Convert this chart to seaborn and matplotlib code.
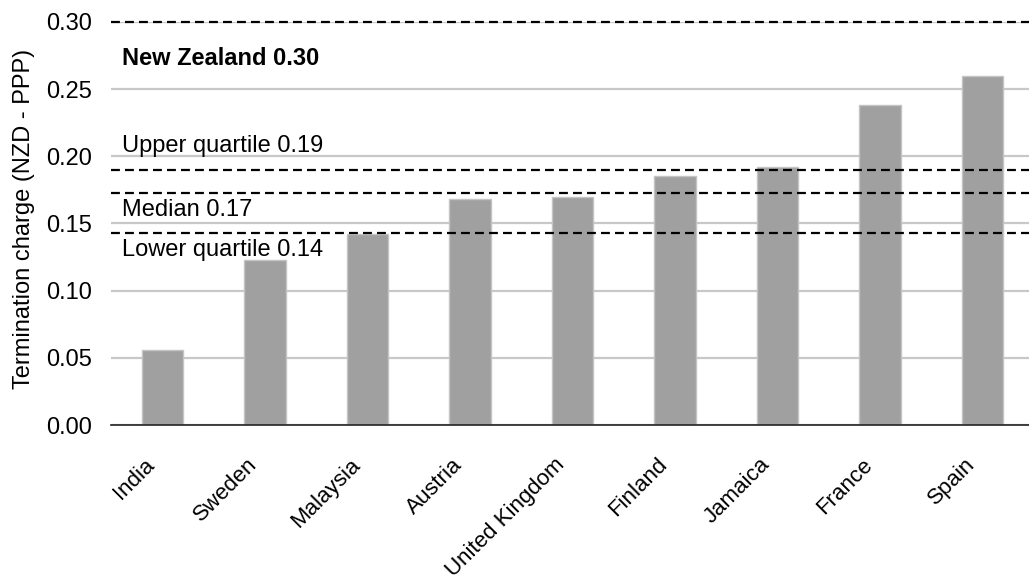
import matplotlib
matplotlib.use("Agg")
import matplotlib.pyplot as plt
import matplotlib.transforms as mtransforms
import seaborn as sns
import pandas as pd

countries = ["India", "Sweden", "Malaysia", "Austria", "United Kingdom",
             "Finland", "Jamaica", "France", "Spain"]
charges = [0.056, 0.123, 0.142, 0.168, 0.170, 0.185, 0.192, 0.238, 0.260]

ref_values = [0.300, 0.190, 0.173, 0.143]
ref_labels = ["New Zealand 0.30", "Upper quartile 0.19", "Median 0.17", "Lower quartile 0.14"]
ref_label_y = [0.273, 0.2075, 0.160, 0.1305]
ref_label_bold = [True, False, False, False]

yticks = [0.00, 0.05, 0.10, 0.15, 0.20, 0.25, 0.30]

FS = 17    # main text size
XFS = 16   # country labels

sns.set_theme(style="white")
plt.rcParams["font.family"] = ["Liberation Sans", "DejaVu Sans"]

df = pd.DataFrame({"country": countries, "charge": charges})

fig = plt.figure(figsize=(10.29, 5.85), dpi=100)
ax = fig.add_axes([111 / 1029, (585 - 425) / 585, 923 / 1029, 403 / 585])

sns.barplot(data=df, x="country", y="charge", ax=ax, color="#a0a0a0",
            width=0.405, edgecolor="#c4c4c4", linewidth=1.0, saturation=1)

ax.set_ylim(0, 0.30)
ax.set_xlim(-0.5, len(countries) - 0.5)
ax.set_yticks(yticks)
ax.set_yticklabels([f"{v:.2f}" for v in yticks])
ax.yaxis.grid(True, color="#c8c8c8", linewidth=1.6)
ax.set_axisbelow(True)

# benchmark lines: New Zealand and the quartiles
for v in ref_values:
    ax.axhline(v, color="black", linewidth=1.6, dashes=(4.0, 2.3), zorder=3,
               clip_on=False)

for txt, y, b in zip(ref_labels, ref_label_y, ref_label_bold):
    ax.text(-0.39, y, txt, fontsize=FS, va="center", ha="left",
            fontweight="bold" if b else "normal", color="black")

for s in ["top", "right", "left"]:
    ax.spines[s].set_visible(False)
ax.spines["bottom"].set_color("#222222")
ax.spines["bottom"].set_linewidth(1.2)

ax.tick_params(axis="y", length=0, pad=14, labelsize=FS, labelcolor="black")
ax.tick_params(axis="x", length=0, pad=21, labelsize=XFS, labelcolor="black")
shift = mtransforms.ScaledTranslation(-0.18, 0, fig.dpi_scale_trans)
for lab in ax.get_xticklabels():
    lab.set_rotation(45)
    lab.set_ha("right")
    lab.set_va("top")
    lab.set_rotation_mode("anchor")
    lab.set_transform(lab.get_transform() + shift)

ax.set_xlabel("")
ax.set_ylabel("Termination charge (NZD - PPP)", fontsize=FS, color="black")
ax.yaxis.set_label_coords(-0.082, 0.512)

fig.savefig("out.png", dpi=100)
